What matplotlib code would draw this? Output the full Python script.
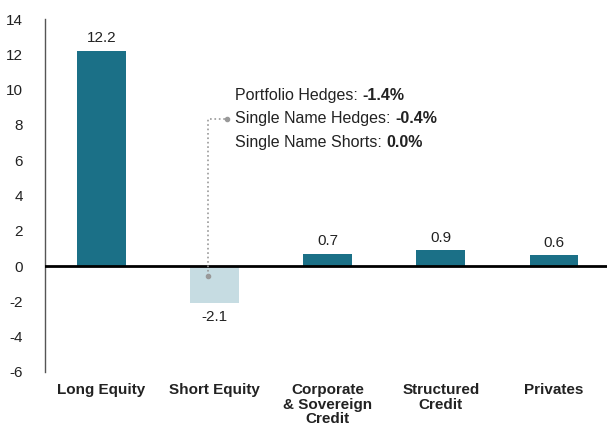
import matplotlib.pyplot as plt

categories = ["Long Equity", "Short Equity", "Corporate\n& Sovereign\nCredit",
              "Structured\nCredit", "Privates"]
values = [12.2, -2.1, 0.7, 0.9, 0.6]
bar_colors = ["#1b7087", "#c6dce2", "#1b7087", "#1b7087", "#1b7087"]

hedge_labels = ["Portfolio Hedges: ", "Single Name Hedges: ", "Single Name Shorts: "]
hedge_values = ["-1.4%", "-0.4%", "0.0%"]

plt.rcParams['font.family'] = ['Liberation Sans', 'DejaVu Sans']
plt.rcParams['axes.unicode_minus'] = False

fig = plt.figure(figsize=(6.07, 4.25), dpi=100)
ax = fig.add_axes([0.074, 0.125, 0.926, 0.83])

x = list(range(len(categories)))
ax.bar(x, values, width=0.43, color=bar_colors, zorder=2)

for xi, v in zip(x, values):
    if v >= 0:
        ax.annotate(f"{v:.1f}", (xi, v), xytext=(0, 4), textcoords="offset points",
                    ha="center", va="bottom", fontsize=11, color="#222222")
    else:
        ax.annotate(f"{v:.1f}", (xi, v), xytext=(0, -5), textcoords="offset points",
                    ha="center", va="top", fontsize=11, color="#222222")

ax.axhline(0, color="black", lw=2, zorder=3)
ax.set_xlim(-0.5, 4.47)
ax.set_ylim(-6, 14)
ax.set_yticks(range(-6, 15, 2))
ax.set_xticks(x)
ax.set_xticklabels(categories, fontsize=11, fontweight="bold", linespacing=1.05)
ax.tick_params(axis="both", length=0, labelsize=11, colors="#222222")
ax.tick_params(axis="y", pad=16)
ax.tick_params(axis="x", pad=8)
for s in ["top", "right", "bottom"]:
    ax.spines[s].set_visible(False)
ax.spines["left"].set_color("#555555")
ax.spines["left"].set_linewidth(1)

# leader line from short equity bar to the hedge breakdown
ax.plot([0.94, 0.94, 1.11], [-0.57, 8.33, 8.33], ls=":", color="#999999", lw=1.2, zorder=4)
ax.plot([0.94, 1.11], [-0.57, 8.33], ls="none", marker="o", ms=3, color="#999999", zorder=4)

fig.canvas.draw()
renderer = fig.canvas.get_renderer()
for i, (lab, val) in enumerate(zip(hedge_labels, hedge_values)):
    y = 9.69 - i * 1.33
    t = ax.text(1.18, y, lab, fontsize=11.5, va="center", ha="left", color="#222222")
    bb = t.get_window_extent(renderer).transformed(ax.transData.inverted())
    ax.text(bb.x1, y, val, fontsize=11.5, va="center", ha="left",
            fontweight="bold", color="#222222")

fig.savefig("out.png", dpi=100)
